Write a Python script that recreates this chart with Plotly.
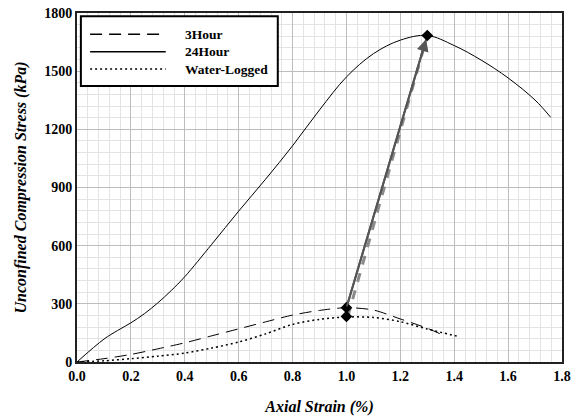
import plotly.graph_objects as go

# Data
x24 = [0, 0.1, 0.15, 0.2, 0.25, 0.3, 0.35, 0.4, 0.5, 0.6, 0.7, 0.8, 0.9, 1.0, 1.1, 1.2, 1.3, 1.4, 1.5, 1.6, 1.7, 1.758]
y24 = [0, 118, 162, 202, 249, 305, 369, 440, 607, 778, 943, 1115, 1300, 1470, 1590, 1660, 1684, 1632, 1557, 1465, 1351, 1262]

x3 = [0, 0.1, 0.2, 0.3, 0.4, 0.5, 0.6, 0.7, 0.8, 0.9, 1.0, 1.1, 1.2, 1.3, 1.35]
y3 = [0, 17, 39, 68, 99, 135, 171, 207, 242, 266, 280, 268, 222, 174, 144]

xw = [0, 0.1, 0.2, 0.3, 0.4, 0.5, 0.6, 0.7, 0.8, 0.9, 1.0, 1.1, 1.2, 1.3, 1.42]
yw = [0, 6, 17, 30, 46, 72, 103, 145, 194, 220, 232, 230, 208, 170, 130]

peak_x = [1.0, 1.0, 1.3]
peak_y = [280, 235, 1684]

arrow_solid_x = [1.0, 1.3]
arrow_solid_y = [280, 1684]
arrow_dash_x = [1.005, 1.3]
arrow_dash_y = [235, 1684]

xticks = [0.0, 0.2, 0.4, 0.6, 0.8, 1.0, 1.2, 1.4, 1.6, 1.8]
yticks = [0, 300, 600, 900, 1200, 1500, 1800]

legend_names = ["3Hour", "24Hour", "Water-Logged"]
legend_dashes = ["12px,7px", "solid", "2px,3px"]

fnt = "Liberation Serif, Times New Roman, serif"

fig = go.Figure()
fig.add_trace(go.Scatter(x=x3, y=y3, mode="lines", name=legend_names[0], showlegend=False,
                         line=dict(color="black", width=1, dash=legend_dashes[0], shape="spline", smoothing=0.8)))
fig.add_trace(go.Scatter(x=x24, y=y24, mode="lines", name=legend_names[1], showlegend=False,
                         line=dict(color="black", width=1, shape="spline", smoothing=1.0)))
fig.add_trace(go.Scatter(x=xw, y=yw, mode="lines", name=legend_names[2], showlegend=False,
                         line=dict(color="black", width=1.5, dash=legend_dashes[2], shape="spline", smoothing=0.8)))
fig.add_trace(go.Scatter(x=arrow_dash_x, y=arrow_dash_y, mode="lines", showlegend=False,
                         line=dict(color="#8a8a8a", width=3, dash="dash")))
fig.add_trace(go.Scatter(x=arrow_solid_x, y=arrow_solid_y, mode="lines", showlegend=False,
                         line=dict(color="#555555", width=2)))
fig.add_annotation(x=arrow_solid_x[1], y=arrow_solid_y[1], ax=arrow_solid_x[0], ay=arrow_solid_y[0],
                   xref="x", yref="y", axref="x", ayref="y", text="", showarrow=True,
                   arrowhead=2, arrowsize=1.2, arrowwidth=2, arrowcolor="#555555", standoff=4)
fig.add_trace(go.Scatter(x=peak_x, y=peak_y, mode="markers", showlegend=False,
                         marker=dict(symbol="diamond", size=9, color="black")))

# Custom legend box (paper coordinates)
fig.add_shape(type="rect", xref="paper", yref="paper", x0=0.008, x1=0.414, y0=0.791, y1=0.991,
              line=dict(color="black", width=2), fillcolor="white", layer="above")
row_y = [0.9389, 0.889, 0.8395]
for name, dash, ry in zip(legend_names, legend_dashes, row_y):
    fig.add_shape(type="line", xref="paper", yref="paper", x0=0.027, x1=0.183, y0=ry, y1=ry,
                  line=dict(color="black", width=1.5, dash=dash), layer="above")
    fig.add_annotation(xref="paper", yref="paper", x=0.2186, y=ry, text=name, showarrow=False,
                       xanchor="left", yanchor="middle",
                       font=dict(family=fnt, size=13.5, color="black", weight="bold"))

fig.update_layout(
    width=579, height=416,
    margin=dict(l=77, r=17, t=13, b=54, autoexpand=False),
    paper_bgcolor="white", plot_bgcolor="white",
    font=dict(family=fnt, color="black", size=13),
    showlegend=False,
)
fig.update_xaxes(range=[0, 1.8], tickvals=xticks, ticktext=[f"{v:.1f}" for v in xticks],
                 tickfont=dict(family=fnt, size=14, weight="bold"),
                 showgrid=True, gridcolor="#bdbdbd", gridwidth=1,
                 minor=dict(dtick=0.04, showgrid=True, gridcolor="#e3e3e3", gridwidth=1),
                 showline=True, linecolor="#222222", linewidth=2, mirror=True, zeroline=False,
                 ticks="", automargin=False,
                 title=dict(text="Axial Strain (%)", font=dict(family=fnt, size=16, weight="bold", style="italic"), standoff=20))
fig.update_yaxes(range=[0, 1800], tickvals=yticks, ticktext=[str(v) for v in yticks],
                 tickfont=dict(family=fnt, size=14, weight="bold"),
                 showgrid=True, gridcolor="#bdbdbd", gridwidth=1,
                 minor=dict(dtick=60, showgrid=True, gridcolor="#e3e3e3", gridwidth=1),
                 showline=True, linecolor="#222222", linewidth=2, mirror=True, zeroline=False,
                 ticks="", automargin=False,
                 title=dict(text="Unconfined Compression Stress (kPa)", font=dict(family=fnt, size=16, weight="bold", style="italic"), standoff=14))

fig.write_html("out.html", config={"displayModeBar": False},
               post_script="document.body.style.margin='0';document.body.style.overflow='hidden';")
